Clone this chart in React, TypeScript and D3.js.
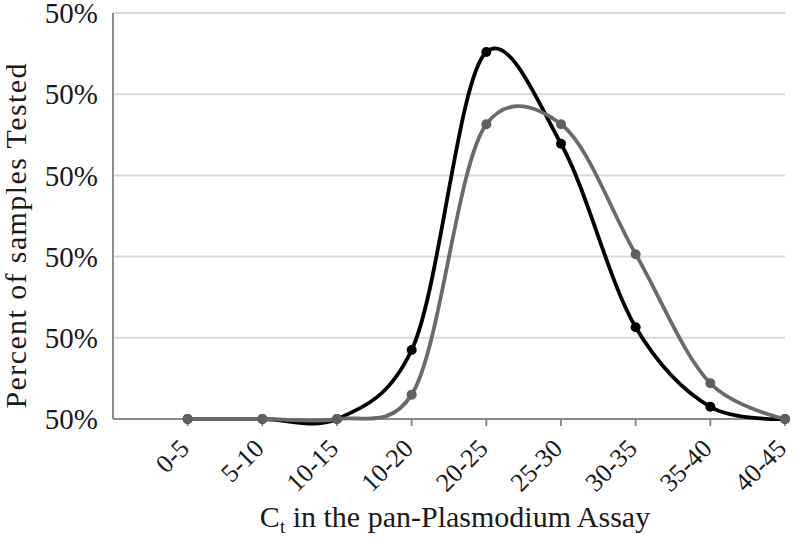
import React from 'react';
import * as d3 from 'd3';

const categories = ['0-5', '5-10', '10-15', '10-20', '20-25', '25-30', '30-35', '35-40', '40-45'];
const darkSeries = [0, 0, 0, 8.5, 45.2, 33.9, 11.3, 1.5, 0];
const greySeries = [0, 0, 0, 3.0, 36.3, 36.3, 20.3, 4.4, 0];
const yTicks = [0, 10, 20, 30, 40, 50];
const yTickLabels = ['50%', '50%', '50%', '50%', '50%', '50%'];

const width = 794;
const height = 546;
const font = '"Liberation Serif", "Times New Roman", serif';

const App = () => {
  // the first slot is left empty, like the Excel original
  const x = d3.scaleLinear().domain([-1, categories.length - 1]).range([113, 785]);
  const y = d3.scaleLinear().domain([0, 50]).range([419, 13]);

  const line = d3
    .line<number>()
    .x((d, i) => x(i))
    .y(d => y(d))
    .curve(d3.curveCatmullRom.alpha(0.2));

  const series = [
    { values: darkSeries, color: '#000000', marker: '#000000' },
    { values: greySeries, color: '#6a6a6a', marker: '#606060' },
  ];

  return (
    <svg
      width={width}
      height={height}
      style={{ position: 'absolute', left: 0, top: 0, background: '#fff' }}
    >
      {yTicks.map((t, i) => (
        <g key={'g' + i}>
          <line x1={x(-1)} x2={x(categories.length - 1)} y1={y(t)} y2={y(t)} stroke="#d9d9d9" strokeWidth={2} />
          <text
            x={98}
            y={y(t)}
            dy="0.35em"
            textAnchor="end"
            fontFamily={font}
            fontSize={29}
            fill="#1a1a1a"
          >
            {yTickLabels[i]}
          </text>
        </g>
      ))}

      <line x1={x(-1)} x2={x(-1)} y1={y(50)} y2={y(0)} stroke="#8c8c8c" strokeWidth={2} />
      <line x1={x(-1)} x2={x(categories.length - 1)} y1={y(0)} y2={y(0)} stroke="#8c8c8c" strokeWidth={2} />

      {categories.map((c, i) => (
        <g key={c + i}>
          <line x1={x(i)} x2={x(i)} y1={y(0)} y2={y(0) + 7} stroke="#8c8c8c" strokeWidth={2} />
          <text
            transform={`translate(${x(i) + 3},${y(0) + 31}) rotate(-45)`}
            textAnchor="end"
            fontFamily={font}
            fontSize={26}
            fill="#1a1a1a"
          >
            {c}
          </text>
        </g>
      ))}

      {series.map((s, si) => (
        <g key={'s' + si}>
          <path d={line(s.values) || ''} fill="none" stroke={s.color} strokeWidth={3.8} />
          {s.values.map((v, i) => (
            <circle key={i} cx={x(i)} cy={y(v)} r={5} fill={s.marker} />
          ))}
        </g>
      ))}

      <text
        transform={`translate(26,236) rotate(-90)`}
        textAnchor="middle"
        fontFamily={font}
        fontSize={30}
        textLength={345}
        lengthAdjust="spacing"
        fill="#1a1a1a"
      >
        Percent of samples Tested
      </text>

      <text x={455} y={527} textAnchor="middle" fontFamily={font} fontSize={30} fill="#1a1a1a">
        C<tspan fontSize={19} dy={6}>t</tspan>
        <tspan dy={-6}> in the pan-Plasmodium Assay</tspan>
      </text>
    </svg>
  );
};

export default App;
